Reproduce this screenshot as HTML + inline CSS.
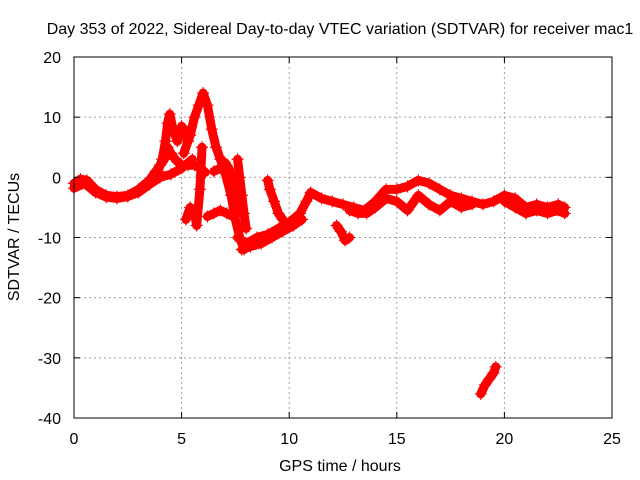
<!DOCTYPE html>
<html><head><meta charset="utf-8"><style>
body{margin:0;background:#fff}
svg{display:block;font-family:"Liberation Sans",sans-serif}
</style></head><body>
<svg id="chart" width="640" height="480">
<rect width="640" height="480" fill="#fff"/>
<g id="grid"></g>
<g id="data"></g>
<rect x="74" y="57" width="538" height="361" fill="none" stroke="#000" stroke-width="1"/>
<g id="axes"></g>
<text x="340" y="34" text-anchor="middle" font-size="16">Day 353 of 2022, Sidereal Day-to-day VTEC variation (SDTVAR) for receiver mac1</text>
<text x="340" y="471" text-anchor="middle" font-size="16">GPS time / hours</text>
<text x="19" y="237" text-anchor="middle" font-size="16" transform="rotate(-90 19 237)">SDTVAR / TECUs</text>
</svg>
<script>
const xTicks=[0,5,10,15,20,25];
const yTicks=[-40,-30,-20,-10,0,10,20];
// tracks: times (hours) and SDTVAR values (TECU)
const t1=[0,0.3,0.6,1,1.5,2,2.5,3,3.5,3.8,4.0,4.2,4.35,4.5,4.7,5.0,5.3,5.6,5.9,6.1];
const v1=[-1,-0.3,-0.5,-2,-3,-3.2,-3,-2,-0.5,1,2,3,5,4,3,2,2,2,1.5,0.8];
const t2=[0,0.5,1,1.5,2,2.5,3,3.5,4,4.5,5,5.5];
const v2=[-1.8,-1,-2.5,-3.3,-3.5,-3.2,-2.5,-1.2,0,0.5,1.5,3];
const t3=[3.9,4.1,4.25,4.35,4.45,4.6,4.8,5.0,5.1,5.3];
const v3=[1,3,6,9,10.5,8,6,8.5,8,6];
const t4=[5.1,5.4,5.6,5.8,6.0,6.2,6.4,6.6,6.8,7.0,7.3,7.5,7.7,7.9];
const v4=[4,7,10,12,14,12,8,5,3,1,-3,-7,-10,-12];
const t5=[5.2,5.4,5.6,5.7,5.85,5.95];
const v5=[-7,-5,-6,-8,-2,5];
const t6=[6.5,6.8,7.0,7.2,7.5,7.6];
const v6=[1,1.5,2.5,1.5,-2,-6];
const t7=[6.2,6.5,6.8,7.1,7.4];
const v7=[-6.5,-6,-5.5,-6,-6.5];
const t8=[7.6,7.7,7.8,7.9,8.0];
const v8=[3,0,-3,-6,-8.5];
const t9=[7.6,8,8.5,9,9.5,10,10.5,10.8,11,11.5,12,12.5,13,13.5,14,14.5,15,15.5,16,16.5,17,17.5,18,18.5,19,19.5,20,20.5,21,21.5,22,22.5,22.8];
const v9=[-10,-11,-10,-9.5,-8.5,-7.5,-6,-4,-2.5,-3.5,-4,-4.5,-5,-5.5,-4,-2,-2,-1.5,-0.5,-1,-2,-3,-3.5,-4,-4.5,-4,-3,-3.5,-5,-4.5,-5,-4.5,-5];
const t9b=[7.8,8.2,8.7,9.2,9.7,10.2,10.6];
const v9b=[-12,-11.5,-11,-10,-9,-8,-7];
const t10=[9,9.1,9.3,9.5,9.7,9.9];
const v10=[-0.5,-2,-4,-6,-7,-8];
const t11=[12.2,12.4,12.6,12.8];
const v11=[-8,-9,-10.5,-10];
const t12=[12.8,13.2,13.6,14,14.5,15,15.5,16,16.5,17,17.5,18,18.5];
const v12=[-5.5,-6,-6,-5,-3.5,-4,-5.5,-3,-4.5,-5.5,-4,-5,-4.5];
const t13=[20,20.5,21,21.5,22,22.5,22.8];
const v13=[-4,-5,-6,-5.5,-6,-5.5,-6];
const t14=[18.9,19.1,19.3,19.5,19.6];
const v14=[-36,-34.5,-33.5,-32.5,-31.5];
const tracks=[[t1,v1],[t2,v2],[t3,v3],[t4,v4],[t5,v5],[t6,v6],[t7,v7],[t8,v8],[t9,v9],[t9b,v9b],[t10,v10],[t11,v11],[t12,v12],[t13,v13],[t14,v14]];
const X0=74,X1=612,Y0=418,Y1=57;
const xs=t=>X0+(t-0)/25*(X1-X0);
const ys=v=>Y0-(v+40)/60*(Y0-Y1);
const NS="http://www.w3.org/2000/svg";
const grid=document.getElementById('grid'),axes=document.getElementById('axes'),data=document.getElementById('data');
function mk(tag,attrs,parent){const e=document.createElementNS(NS,tag);for(const k in attrs)e.setAttribute(k,attrs[k]);parent.appendChild(e);return e;}
xTicks.forEach(t=>{const x=xs(t);
 if(t>0&&t<25){const g=mk('line',{x1:x,x2:x,y1:Y1,y2:Y0,stroke:'#a0a0a0','stroke-dasharray':'2,3'},grid);
 
 }
 mk('line',{x1:x,x2:x,y1:Y0,y2:Y0-6,stroke:'#000'},axes);
 mk('line',{x1:x,x2:x,y1:Y1,y2:Y1+6,stroke:'#000'},axes);
 const l=mk('text',{x:x,y:Y0+26,'text-anchor':'middle','font-size':16},axes);l.textContent=t;
 
 });
yTicks.forEach(v=>{const y=ys(v);
 if(v>-40&&v<20){const g=mk('line',{x1:X0,x2:X1,y1:y,y2:y,stroke:'#a0a0a0','stroke-dasharray':'2,3'},grid);
 
 }
 mk('line',{x1:X0,x2:X0+6,y1:y,y2:y,stroke:'#000'},axes);
 mk('line',{x1:X1,x2:X1-6,y1:y,y2:y,stroke:'#000'},axes);
 const l=mk('text',{x:X0-13,y:y+6,'text-anchor':'end','font-size':16},axes);l.textContent=v;
 
 });
tracks.forEach(([T,V])=>{
 const pts=T.map((t,i)=>xs(t)+','+ys(V[i])).join(' ');
 const p=mk('polyline',{points:pts,fill:'none',stroke:'#f00','stroke-width':9,'stroke-linejoin':'round','stroke-linecap':'round'},data);
 
 
 T.forEach((t,i)=>{const x=xs(t),y=ys(V[i]);
  const m=mk('path',{d:`M${x-6},${y}h12M${x},${y-6}v12`,stroke:'#f00','stroke-width':1.2},data);
  
  });
});
</script>
</body></html>
